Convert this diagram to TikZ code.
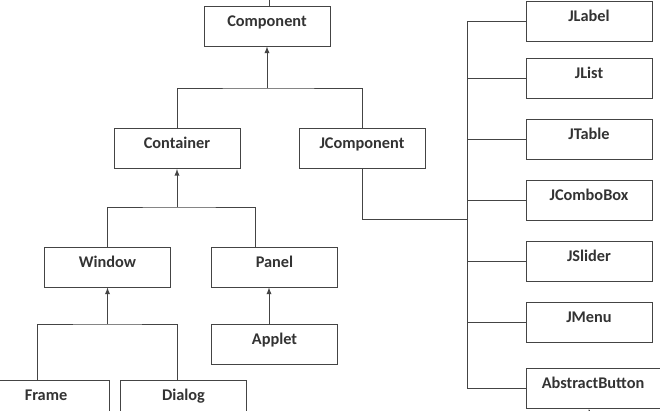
\documentclass[tikz,border=0pt]{standalone}
\usepackage{fontspec}
\setsansfont{Carlito}
\usepackage{xcolor}
\usepackage{tikz}
\usetikzlibrary{arrows,calc,positioning}

\definecolor{linegray}{HTML}{444444}
\definecolor{textgray}{HTML}{333333}

\begin{document}
\begin{tikzpicture}
[x = 0.025cm,
 y = -0.025cm,
 line width = 0.65pt,
 cls/.style = {draw = linegray,
               minimum width = 3.15cm,
               minimum height = 1cm,
               inner sep = 0pt,
               text height = 0.25cm,
               text depth = 0.25cm,
               text = textgray,
               font = \sffamily\bfseries\fontsize{11.6pt}{13pt}\selectfont},
 link/.style = {draw = linegray}]

\clip (0,0) rectangle (660,410);
\fill[white] (0,0) rectangle (660,410);

% left tree
\node[cls] (comp) at (267,26) {Component};
\node[cls] (cont) at (177,148.5) {Container};
\node[cls] (jcomp) at (362,148.5) {JComponent};
\node[cls] (window) at (107.5,267) {Window};
\node[cls] (panel) at (274.5,267) {Panel};
\node[cls] (applet) at (274.5,344.5) {Applet};
\node[cls] (frame) at (46,400) {Frame};
\node[cls] (dialog) at (183.5,400) {Dialog};

% swing column
\node[cls] (jlabel) at (589,21) {JLabel};
\node[cls, below = 0.425cm of jlabel] (jlist) {JList};
\node[cls, below = 0.5cm of jlist] (jtable) {JTable};
\node[cls, below = 0.5cm of jtable] (jcombo) {JComboBox};
\node[cls, below = 0.5cm of jcombo] (jslider) {JSlider};
\node[cls, below = 0.5cm of jslider] (jmenu) {JMenu};
\node[cls, below = 0.625cm of jmenu, xshift = 0.1cm,
      minimum width = 3.35cm] (absbtn) {AbstractButton};

\coordinate (compup) at (269,0);
\coordinate (bus1) at (267,88);
\coordinate (bus2) at (177,207);
\coordinate (bus3) at (107.5,324);
\coordinate (trunk) at (467,0);
\coordinate (jbus) at (467,219);
\coordinate (btndown) at (589,410);

\draw[link] (compup) -- (compup |- comp.north);
\draw[link, -latex] (bus1) -- (comp.south);
\draw[link] (cont.north) |- (bus1) -| (jcomp.north);
\draw[link, -latex] (bus2) -- (cont.south);
\draw[link] (window.north) |- (bus2) -| ($(panel.north)+(-19.5,0)$);
\draw[link, -latex] (bus3) -- (window.south);
\draw[link] ($(frame.north)+(-9,0)$) |- (bus3) -| ($(dialog.north)+(-6.5,0)$);
\draw[link, -latex] ($(applet.north)+(-5.5,0)$) -- ($(panel.south)+(-5.5,0)$);

\draw[link] (jcomp.south) |- (jbus);
\draw[link] (jlabel.west) -| (trunk |- absbtn.west) -- (absbtn.west);
\foreach \n in {jlist, jtable, jcombo, jslider, jmenu}
  \draw[link] (\n.west) -- (\n.west -| trunk);
\draw[link, -latex] (btndown) -- (btndown |- absbtn.south);

\end{tikzpicture}
\end{document}
